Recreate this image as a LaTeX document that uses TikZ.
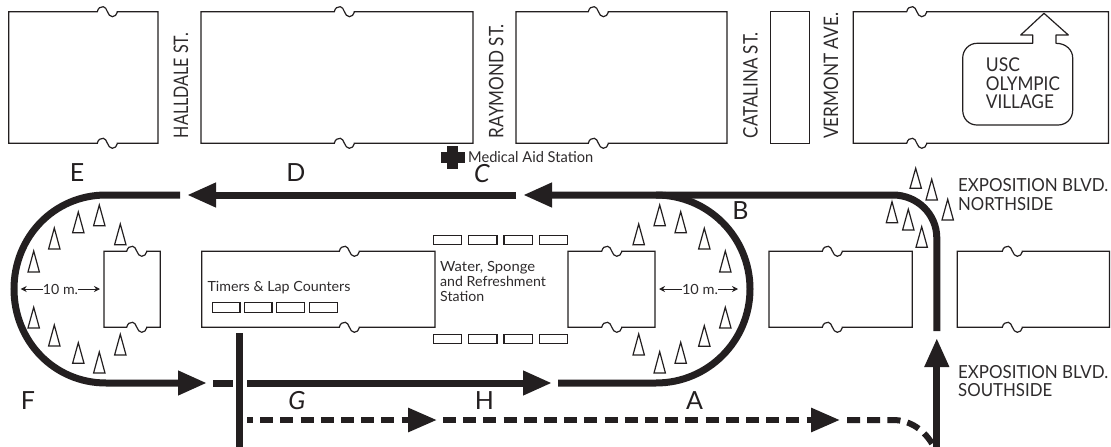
\documentclass[tikz,border=0pt]{standalone}
\usepackage{fontspec}
\usepackage{graphicx}
\setmainfont{Lato}
\usetikzlibrary{arrows.meta}
\definecolor{ink}{HTML}{231F20}
\definecolor{txt}{HTML}{2E2B2C}
% width-fitted text: horizontal size is forced, height kept
\newcommand{\fw}[2]{\resizebox{#1pt}{\height}{#2}}
% block with a street-break wiggle on its top and bottom edges
\newcommand{\wig}[2]{-- (#1,#2) .. controls (#1+1,#2-4) and (#1+3,#2-5) .. (#1+6,#2-5) .. controls (#1+10,#2-5) and (#1+10,#2+5) .. (#1+15,#2+5) .. controls (#1+18,#2+5) and (#1+19,#2+3) .. (#1+20,#2+0.5) -- (#1+20,#2)}
\newcommand{\blockw}[5]{\draw[blockline] (#1,#2) \wig{#5}{#2} -- (#3,#2) -- (#3,#4) -- (#5+20,#4) -- (#5+20,#4+0.5) .. controls (#5+19,#4+3) and (#5+18,#4+5) .. (#5+15,#4+5) .. controls (#5+10,#4+5) and (#5+10,#4-5) .. (#5+6,#4-5) .. controls (#5+3,#4-5) and (#5+1,#4-4) .. (#5,#4) -- (#1,#4) -- cycle;}
\newcommand{\cone}[3]{\draw[coneline] (#1-5.7,#3) -- (#1,#2) -- (#1+5.7,#3) -- cycle;}
\newcommand{\slot}[3]{\draw[slotline] (#1,#3) rectangle (#2,#3+9.5);}
\tikzset{
  blockline/.style={draw=ink,line width=1.2pt,line join=miter},
  coneline/.style={draw=ink,line width=1.2pt,line join=miter},
  slotline/.style={draw=ink,line width=1.1pt},
  course/.style={draw=ink,line width=7pt},
  rundash/.style={draw=ink,line width=6pt,dash pattern=on 13pt off 7.2pt},
  head/.style={-{Triangle[length=29pt,width=23pt]}},
  thin arrow/.style={draw=ink,line width=0.9pt,-{Stealth[length=6pt,width=6pt]}},
  road/.style={anchor=base west,rotate=90,inner sep=0pt,text=txt,font=\fontsize{20}{20}\selectfont},
  bigroad/.style={anchor=base west,inner sep=0pt,text=txt,align=left,font=\fontsize{18}{18.5}\selectfont},
  note/.style={anchor=base west,inner sep=0pt,text=txt,align=left,font=\fontsize{14}{15}\selectfont},
  letter/.style={inner sep=0pt,text=ink,font=\fontsize{25}{25}\selectfont},
}
\begin{document}
\begin{tikzpicture}[x=1pt,y=-1pt]
\useasboundingbox (0,0) rectangle (1111,447);
\clip (0,0) rectangle (1111,447);
\fill[white] (0,0) rectangle (1111,447);
% upper blocks
\blockw{8.7}{11.7}{158}{143.3}{97.3}
\blockw{201}{11.7}{473}{143.3}{334.3}
\blockw{516}{11.7}{727}{143.3}{588.3}
\draw[blockline] (770.3,11.7) rectangle (809.3,143.3);
\blockw{853.3}{11.7}{1108.5}{143.3}{906.7}
% lower blocks
\blockw{104}{251.3}{160.3}{327.3}{126.7}
\blockw{201.7}{251.3}{435}{327.3}{339.3}
\blockw{568}{251.3}{655}{327.3}{601.7}
\blockw{769}{251.3}{912.3}{327.3}{822.3}
\blockw{957.3}{251.3}{1109.5}{327.3}{1002.3}
% village bubble
\draw[blockline,line join=round] (1044,13.3) -- (1068.3,35) -- (1056,35) -- (1056,43.3)
  .. controls (1066,43.3) and (1072.7,50) .. (1072.7,58) -- (1072.7,110)
  .. controls (1072.7,119) and (1066,125) .. (1058,125) -- (977,125)
  .. controls (969,125) and (962.7,119) .. (962.7,110) -- (962.7,58)
  .. controls (962.7,50) and (969,43.3) .. (977,43.3) -- (1032.7,43.3) -- (1032.7,35) -- (1020.7,35) -- cycle;
\node[bigroad,font=\fontsize{19}{18.3}\selectfont] (village) at (985.7,108.3) {\fw{34}{USC}\\\fw{74}{OLYMPIC}\\\fw{68}{VILLAGE}};
% street names
\node[road] (halldale) at (188,138.3) {\fw{105}{HALLDALE ST.}};
\node[road] (raymond) at (503.3,138.3) {\fw{114}{RAYMOND ST.}};
\node[road] (catalina) at (757.5,138.3) {\fw{106}{CATALINA ST.}};
\node[road] (vermont) at (838,139) {\fw{126}{VERMONT AVE.}};
\node[bigroad] (north) at (958,210) {\fw{150}{EXPOSITION BLVD.}\\\fw{95}{NORTHSIDE}};
\node[bigroad] (south) at (958,396.7) {\fw{150}{EXPOSITION BLVD.}\\\fw{94}{SOUTHSIDE}};
% medical station
\fill[ink] (447,146) rectangle (458.3,168.7);
\fill[ink] (441.3,151.5) rectangle (464.5,163.2);
\node[note,font=\fontsize{15}{15}\selectfont] (medical) at (468,162.7) {\fw{125}{Medical Aid Station}};
% notes
\node[note] (timers) at (207.3,291.7) {\fw{143}{Timers \& Lap Counters}};
\node[note] (water) at (440,301.7) {\fw{95}{Water, Sponge}\\\fw{105.7}{and Refreshment}\\\fw{44}{Station}};
% slots
\slot{212.3}{240}{302.7}\slot{244.3}{272}{302.7}\slot{276.7}{304.3}{302.7}\slot{309.3}{337.3}{302.7}
\slot{433.3}{461.7}{235.3}\slot{468.7}{497}{235.3}\slot{504}{532.3}{235.3}\slot{539.3}{567.7}{235.3}
\slot{433.3}{461.7}{334.2}\slot{468.7}{497}{334.2}\slot{504}{532.3}{334.2}\slot{539.3}{567.7}{334.2}
% 10 m. dimensions
\coordinate (la) at (20.7,289);
\coordinate (lb) at (100,289);
\coordinate (ra) at (659,289);
\coordinate (rb) at (738,289);
\node[inner sep=0pt,text=txt,font=\fontsize{14}{14}\selectfont] (tenl) at (60.5,289) {\fw{35}{10 m.}};
\node[inner sep=0pt,text=txt,font=\fontsize{14}{14}\selectfont] (tenr) at (700,289) {\fw{36}{10 m.}};
\draw[thin arrow] (tenl) -- (la);
\draw[thin arrow] (tenl) -- (lb);
\draw[thin arrow] (tenr) -- (ra);
\draw[thin arrow] (tenr) -- (rb);
% cones, left loop
\cone{99.3}{205}{225.7}\cone{78.3}{212}{232.7}\cone{54.3}{228}{249}\cone{33.7}{251}{272}\cone{120.3}{224}{244.7}
\cone{33.7}{307.3}{328}\cone{54.3}{325}{346}\cone{78.3}{342.7}{363.3}\cone{99.3}{352}{373}\cone{120.3}{334.3}{355}
% cones, right loop
\cone{659.7}{205}{225.7}\cone{680.7}{211.7}{232.7}\cone{704.3}{228.3}{249}\cone{725.3}{251}{272}\cone{638.7}{224}{244.7}
\cone{725.3}{307.3}{328}\cone{704.3}{325.7}{346.3}\cone{680.7}{342.3}{363.3}\cone{659.7}{351.7}{373}\cone{638.7}{334}{355}
% cones, corner
\cone{915.7}{168.3}{188.3}\cone{931.7}{179.3}{200}\cone{947.7}{199.3}{220}\cone{892}{201.7}{222.7}\cone{908.3}{209.3}{230}\cone{921.7}{226.7}{247.3}
% course
\coordinate (a1) at (558,383);
\coordinate (a2) at (656,383);
\coordinate (b1) at (656,195);
\coordinate (c1) at (893,195);
\coordinate (c2) at (936.8,238);
\coordinate (c3) at (936.8,331);
\coordinate (ctip) at (523,195);
\coordinate (d0) at (516,195);
\coordinate (dtip) at (187,195);
\coordinate (e0) at (180,195);
\coordinate (e1) at (106,195);
\coordinate (e2) at (106,383);
\coordinate (ftip) at (207,383);
\coordinate (g1) at (213.3,383);
\coordinate (g2) at (233,383);
\coordinate (h1) at (247,383);
\coordinate (htip) at (552,383);
\coordinate (v1) at (239.5,333);
\coordinate (v2) at (239.5,447);
\coordinate (st0) at (936.8,447);
\coordinate (sttip) at (936.8,338);
\draw[course] (a1) -- (a2) .. controls (708,383) and (750,341) .. (750,289) .. controls (750,237) and (708,195) .. (b1);
\draw[course,head] (c3) -- (c2) .. controls (936.8,214) and (917,195) .. (c1) -- (ctip);
\draw[course,head] (d0) -- (dtip);
\draw[course,head] (e0) -- (e1) .. controls (54,195) and (14,237) .. (14,289) .. controls (14,341) and (54,383) .. (e2) -- (ftip);
\draw[course] (g1) -- (g2);
\draw[course,head] (h1) -- (htip);
\draw[course] (v1) -- (v2);
\draw[course,head] (st0) -- (sttip);
% dashed run-in
\coordinate (r1) at (247,420);
\coordinate (r1tip) at (437,420);
\coordinate (r2) at (443,420);
\coordinate (r2tip) at (840,420);
\coordinate (r3) at (847,420);
\coordinate (r4) at (893,420);
\coordinate (r5) at (934,447);
\draw[rundash,dash phase=7pt,head] (r1) -- (r1tip);
\draw[rundash,head] (r2) -- (r2tip);
\draw[rundash] (r3) -- (r4) .. controls (910,420) and (925,430) .. (r5);
% letters
\node[letter] (lA) at (694.5,401) {A};
\node[letter] (lB) at (740.5,211) {B};
\node[letter,font=\fontsize{25}{25}\selectfont\itshape] (lC) at (482,174) {C};
\node[letter] (lD) at (296,173) {D};
\node[letter] (lE) at (77,173) {E};
\node[letter] (lF) at (28,401) {F};
\node[letter,font=\fontsize{25}{25}\selectfont\itshape] (lG) at (297,401) {G};
\node[letter] (lH) at (484.5,401) {H};
\end{tikzpicture}
\end{document}
